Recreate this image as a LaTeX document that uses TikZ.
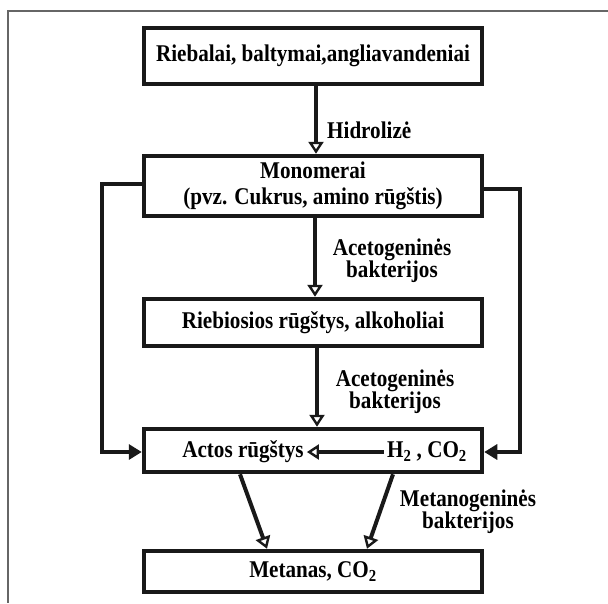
\documentclass[tikz,border=0pt]{standalone}
\usepackage{fontspec}
\usepackage{graphicx}
\setmainfont{Liberation Serif}
\usetikzlibrary{arrows.meta,calc}
\newcommand{\cz}[1]{\scalebox{0.88}[1]{#1}}
\begin{document}
\begin{tikzpicture}[x=1pt,y=-1pt,
  box/.style={draw=black!90,line width=4.5pt,fill=white,minimum width=338pt,inner sep=0pt,align=center,
    font=\fontsize{24}{26}\selectfont\bfseries},
  txt/.style={font=\fontsize{24}{22}\selectfont\bfseries,inner sep=0pt,align=center},
  intxt/.style={font=\fontsize{24}{23}\selectfont\bfseries,inner xsep=3pt,inner ysep=0pt,text height=16pt,text depth=5pt},
  flow/.style={draw=black!90,line width=4pt,-{Triangle[open,length=12pt,width=15pt,line width=2.4pt]}},
  side/.style={draw=black!90,line width=4.5pt,-{Triangle[length=13pt,width=15pt]}}
]
\useasboundingbox (0,0) rectangle (608,603);
\draw[black!60, line width=1.5pt] (608,11) -- (8,11) -- (8,603);

\node[box,minimum height=56pt] (b1) at (313,56) {\cz{Riebalai, baltymai,angliavandeniai}};
\node[box,minimum height=60pt] (b2) at (313,186) {\cz{Monomerai}\\\cz{(pvz. Cukrus, amino rūgštis)}};
\node[box,minimum height=47pt] (b3) at (313,322.5) {\cz{Riebiosios rūgštys, alkoholiai}};
\node[box,minimum height=43pt] (b4) at (313,450.5) {};
\node[box,minimum height=41pt] (b5) at (313,571.5) {\cz{Metanas, CO\textsubscript{2}}};

\node[intxt] (a1) at (243,452) {\cz{Actos rūgštys}};
\node[intxt] (a2) at (427,452) {\cz{H\textsubscript{2} , CO\textsubscript{2}}};

\node[txt,anchor=west] (l1) at (327,130) {\cz{Hidrolizė}};
\node[txt] (l2) at (392,261) {\cz{Acetogeninės}\\\cz{bakterijos}};
\node[txt] (l3) at (395,392) {\cz{Acetogeninės}\\\cz{bakterijos}};
\node[txt] (l4) at (468,512) {\cz{Metanogeninės}\\\cz{bakterijos}};

\draw[flow] ($(b1.south)+(3,0)$) -- ($(b2.north)+(3,0)$);
\draw[flow] ($(b2.south)+(2,0)$) -- ($(b3.north)+(2,0)$);
\draw[flow] ($(b3.south)+(4,0)$) -- ($(b4.north)+(4,0)$);
\draw[flow] (a2.west) -- (a1.east);
\draw[flow] ($(b4.south)+(-73,0)$) -- ($(b5.north)+(-46,0)$);
\draw[flow] ($(b4.south)+(80,0)$) -- ($(b5.north)+(54,0)$);

\coordinate (L) at (102,452);
\coordinate (R) at (520,452);
\draw[side] ($(b2.west)+(0,-2)$) -| (L) -- (b4.west |- L);
\draw[side] ($(b2.east)+(0,3)$) -| (R) -- (b4.east |- R);
\end{tikzpicture}
\end{document}
